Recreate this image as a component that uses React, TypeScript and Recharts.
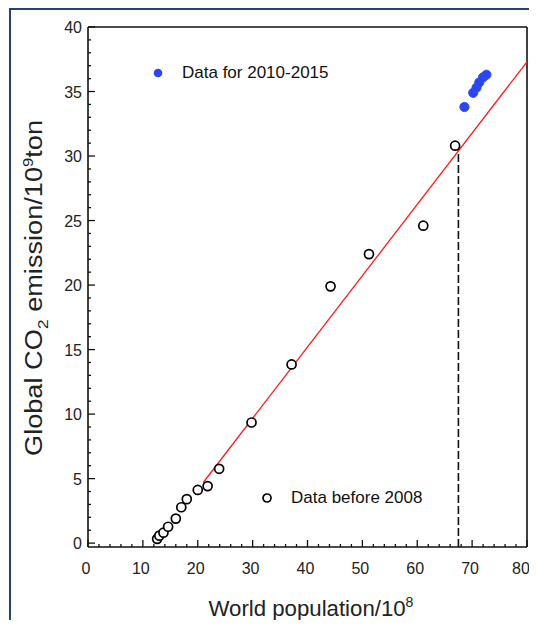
import { Legend, ReferenceLine, Scatter, ScatterChart, XAxis, YAxis, Label } from "recharts";

// world population (10^8) vs global CO2 emission (10^9 ton)
const popBefore2008 = [12.6, 13.0, 13.75, 14.6, 16.0, 17.0, 18.0, 20.0, 21.8, 23.9, 29.8, 37.1, 44.2, 51.2, 61.1, 66.9];
const co2Before2008 = [0.33, 0.58, 0.81, 1.27, 1.9, 2.78, 3.41, 4.12, 4.42, 5.76, 9.35, 13.85, 19.9, 22.4, 24.6, 30.8];

const pop2010to2015 = [68.6, 70.2, 70.8, 71.3, 72.0, 72.6];
const co22010to2015 = [33.8, 34.9, 35.3, 35.7, 36.1, 36.3];

// fitted line end points
const fitPop = [21, 80];
const fitCo2 = [4.7, 37.3];

// 2008 marker
const markPop = 67.5;
const markCo2 = 30.8;

const xTicks = Array.from({ length: 41 }, (_, i) => i * 2);
const yTicks = Array.from({ length: 41 }, (_, i) => i);

const labelBefore = "Data before 2008";
const label2010 = "Data for 2010-2015";
const captionTail = "r respecting global CO2 emission vs. world population (co";

const before = popBefore2008.map((x, i) => ({ x, y: co2Before2008[i] }));
const recent = pop2010to2015.map((x, i) => ({ x, y: co22010to2015[i] }));
const fit = fitPop.map((x, i) => ({ x, y: fitCo2[i] }));

const FONT = "'Liberation Sans', Arial, sans-serif";

function XTick(props: any) {
  const { x, y, payload } = props;
  const major = payload.value % 10 === 0;
  // keep the last label inside the picture
  const lx = Math.min(x - 2, 521);
  return (
    <g>
      <line x1={x} x2={x} y1={y} y2={y - (major ? 7 : 3)} stroke="#111" strokeWidth={1.3} />
      {major && (
        <text x={lx} y={y + 27} textAnchor="middle" fontSize={16} fill="#222" fontFamily={FONT}>
          {payload.value}
        </text>
      )}
    </g>
  );
}

function YTick(props: any) {
  const { x, y, payload } = props;
  const major = payload.value % 5 === 0;
  return (
    <g>
      <line x1={x} x2={x + (major ? 7 : 3)} y1={y} y2={y} stroke="#111" strokeWidth={1.3} />
      {major && (
        <text x={x - 6} y={y + 6} textAnchor="end" fontSize={16} fill="#222" fontFamily={FONT}>
          {payload.value}
        </text>
      )}
    </g>
  );
}

const OpenDot = (props: any) => (
  <circle cx={props.cx} cy={props.cy} r={4.5} fill="#fff" stroke="#000" strokeWidth={1.7} />
);
const BlueDot = (props: any) => (
  <circle cx={props.cx} cy={props.cy} r={4.6} fill="#2a45ee" stroke="#3050f0" strokeWidth={1} />
);

function LegendBox() {
  const item = (left: number, top: number, dot: any, text: string) => (
    <div style={{ position: "absolute", left, top, whiteSpace: "nowrap", display: "flex", alignItems: "center" }}>
      <svg width={12} height={12} style={{ marginRight: 18 }}>
        {dot}
      </svg>
      <span style={{ fontFamily: FONT, fontSize: 17, color: "#111" }}>{text}</span>
    </div>
  );
  return (
    <div style={{ position: "relative", width: 0, height: 0 }}>
      {item(152, 63, <circle cx={6} cy={6} r={4.3} fill="#2a45ee" />, label2010)}
      {item(261, 488, <circle cx={6} cy={6} r={4} fill="#fff" stroke="#000" strokeWidth={1.7} />, labelBefore)}
    </div>
  );
}

export default function App() {
  return (
    <div style={{ position: "relative", width: 537, height: 628, margin: -8, overflow: "hidden", background: "#fff" }}>
      <div
        style={{
          position: "absolute",
          left: 0,
          top: 0,
          width: 537,
          height: 8,
          overflow: "hidden",
          zIndex: 2,
        }}
      >
        <div
          style={{
            position: "absolute",
            left: 0,
            top: -11,
            whiteSpace: "nowrap",
            fontFamily: "'Liberation Serif', 'Times New Roman', serif",
            fontSize: 19,
            lineHeight: "20px",
            color: "#000",
          }}
        >
          {captionTail}
        </div>
      </div>
      <div
        style={{
          position: "absolute",
          left: 9,
          top: 8,
          width: 540,
          height: 630,
          borderLeft: "2px solid #27426b",
          borderTop: "2px solid #27426b",
        }}
      />
      <div style={{ position: "absolute", left: 0, top: 0 }}>
        <ScatterChart width={537} height={628} margin={{ top: 27, right: 10, bottom: 41, left: 48 }}>
          <XAxis
            type="number"
            dataKey="x"
            domain={[0, 80]}
            ticks={xTicks}
            interval={0}
            tick={<XTick />}
            tickLine={false}
            tickSize={0}
            tickMargin={0}
            height={40}
            axisLine={{ stroke: "#111", strokeWidth: 1.6 }}
            allowDataOverflow
          >
            <Label
              content={() => (
                <text
                  x={311}
                  y={616}
                  textAnchor="middle"
                  fontSize={22}
                  fill="#222"
                  fontFamily={FONT}
                  textLength={205}
                  lengthAdjust="spacingAndGlyphs"
                >
                  World population/10
                  <tspan dy={-9} fontSize={14}>8</tspan>
                </text>
              )}
            />
          </XAxis>
          <YAxis
            type="number"
            dataKey="y"
            domain={[-0.3, 40]}
            ticks={yTicks}
            interval={0}
            tick={<YTick />}
            tickLine={false}
            tickSize={0}
            tickMargin={0}
            width={40}
            axisLine={{ stroke: "#111", strokeWidth: 1.6 }}
            allowDataOverflow
          >
            <Label
              content={() => (
                <text
                  transform="translate(42,288) rotate(-90)"
                  textAnchor="middle"
                  fontSize={23}
                  fill="#222"
                  fontFamily={FONT}
                  textLength={336}
                  lengthAdjust="spacingAndGlyphs"
                >
                  Global CO
                  <tspan dy={6} fontSize={15}>2</tspan>
                  <tspan dy={-6}> emission/10</tspan>
                  <tspan dy={-9} fontSize={14}>9</tspan>
                  <tspan dy={9}>ton</tspan>
                </text>
              )}
            />
          </YAxis>
          <ReferenceLine y={40} stroke="#111" strokeWidth={1.6} />
          <ReferenceLine x={80} stroke="#111" strokeWidth={1.6} />
          <ReferenceLine
            segment={[
              { x: markPop, y: -0.3 },
              { x: markPop, y: markCo2 },
            ]}
            stroke="#111"
            strokeWidth={1.6}
            strokeDasharray="8 3"
          />
          <Scatter
            data={fit}
            line={{ stroke: "#ff1a1a", strokeWidth: 1.3 }}
            shape={() => null}
            isAnimationActive={false}
            legendType="none"
          />
          <Scatter data={before} shape={<OpenDot />} isAnimationActive={false} name={labelBefore} />
          <Scatter data={recent} shape={<BlueDot />} isAnimationActive={false} name={label2010} />
          <Legend content={<LegendBox />} wrapperStyle={{ left: 0, top: 0, width: 0, height: 0 }} />
        </ScatterChart>
      </div>
    </div>
  );
}
